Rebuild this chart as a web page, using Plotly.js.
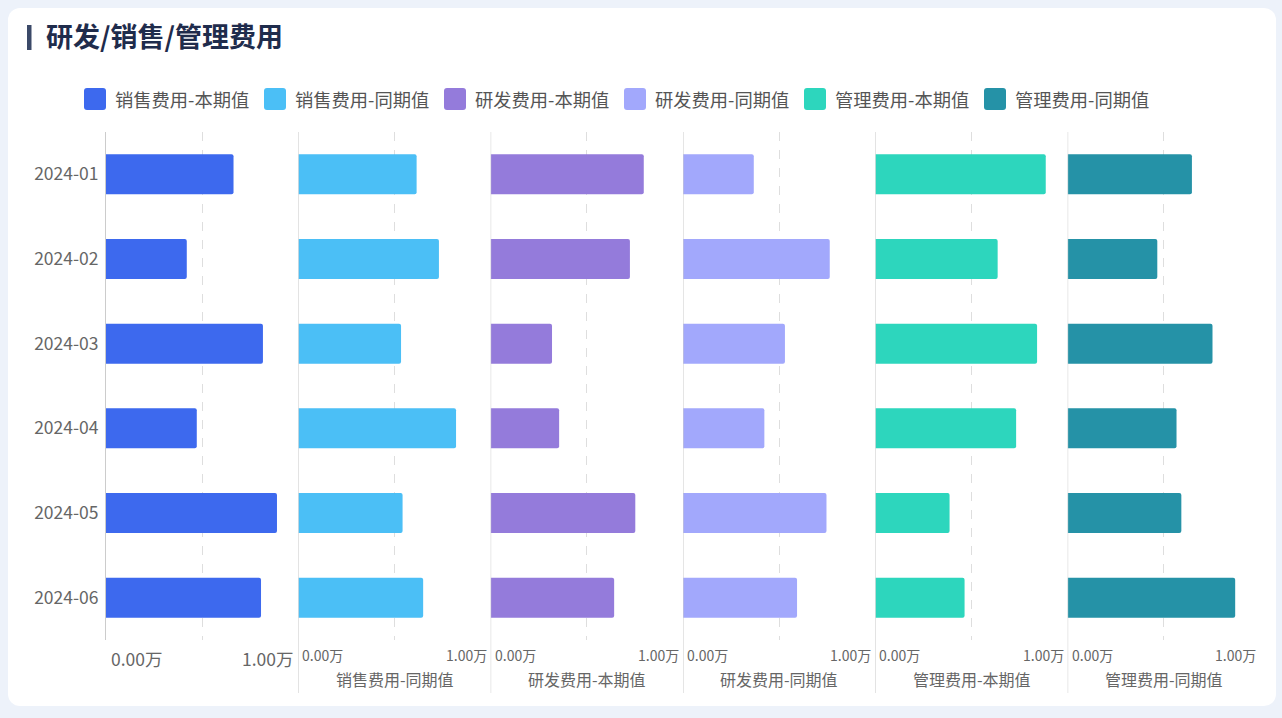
<!DOCTYPE html>
<html>
<head>
<meta charset="utf-8">
<script src="https://cdn.plot.ly/plotly-3.0.1.min.js"></script>
<style>
    html, body { margin: 0; padding: 0; background: #edf2fa; }
    #card {
        position: absolute; left: 8px; top: 8px; width: 1268px; height: 698px;
        background: #ffffff; border-radius: 12px;
    }
    #chart { position: absolute; left: 0; top: 0; width: 1282px; height: 718px; }
</style>
</head>
<body>
<div id="card"></div>
<div id="chart"></div>
<script>
// months on the category axis (top to bottom)
const months = ['2024-01', '2024-02', '2024-03', '2024-04', '2024-05', '2024-06'];

// series names, one panel each
const seriesNames = [
    '销售费用-本期值', '销售费用-同期值',
    '研发费用-本期值', '研发费用-同期值',
    '管理费用-本期值', '管理费用-同期值'
];
const seriesColors = ['#3d69ee', '#4bbff6', '#947bdb', '#a2a8fc', '#2dd6bd', '#2592a7'];

// values in 万
const salesCur  = [0.663, 0.420, 0.816, 0.472, 0.889, 0.806];
const salesPrev = [0.615, 0.731, 0.534, 0.820, 0.542, 0.649];
const rdCur     = [0.796, 0.724, 0.319, 0.356, 0.752, 0.642];
const rdPrev    = [0.368, 0.763, 0.530, 0.423, 0.746, 0.593];
const admCur    = [0.886, 0.636, 0.841, 0.732, 0.386, 0.464];
const admPrev   = [0.646, 0.466, 0.753, 0.566, 0.591, 0.871];
const seriesValues = [salesCur, salesPrev, rdCur, rdPrev, admCur, admPrev];

// x axis ticks of every panel
const xTickVals = [0, 1];
const xTickText = ['0.00万', '1.00万'];

const FONT = '"Noto Sans CJK SC", "Noto Sans", sans-serif';

// plot area in pixels, used to place the decorations
const M = { l: 106, r: 22, t: 132, b: 78 };
const W = 1282 - M.l - M.r;
const H = 718 - M.t - M.b;
const px = x => (x - M.l) / W;
const py = y => 1 - (y - M.t) / H;

const traces = seriesValues.map((vals, i) => ({
    type: 'bar',
    orientation: 'h',
    name: seriesNames[i],
    x: vals,
    y: months,
    xaxis: i === 0 ? 'x' : 'x' + (i + 1),
    yaxis: 'y',
    marker: { color: seriesColors[i], cornerradius: 2 },
    showlegend: false,
    hovertemplate: '%{y}<br>' + seriesNames[i] + ': %{x:.2f}万<extra></extra>'
}));

const layout = {
    width: 1282,
    height: 718,
    margin: M,
    paper_bgcolor: 'rgba(0,0,0,0)',
    plot_bgcolor: 'rgba(0,0,0,0)',
    font: { family: FONT, color: '#666' },
    bargap: 0.528,
    title: {
        text: '<b>研发/销售/管理费用</b>',
        xref: 'container', yref: 'container',
        x: 46 / 1282, y: 1 - 38 / 718,
        xanchor: 'left', yanchor: 'middle',
        font: { family: FONT, size: 27, color: '#1f2c4c' }
    },
    yaxis: {
        type: 'category',
        autorange: 'reversed',
        anchor: 'x',
        showgrid: false,
        zeroline: false,
        showline: true,
        linecolor: '#cccccc',
        linewidth: 1,
        ticks: '',
        ticklabelstandoff: 3,
        tickfont: { family: FONT, size: 17.5, color: '#666' }
    },
    shapes: [],
    annotations: []
};

seriesNames.forEach((name, i) => {
    const key = i === 0 ? 'xaxis' : 'xaxis' + (i + 1);
    const ref = i === 0 ? 'x' : 'x' + (i + 1);
    layout[key] = {
        domain: [i / 6, (i + 1) / 6],
        range: [0, 1],
        anchor: 'y',
        tickvals: [0.5, 1],
        showticklabels: false,
        ticks: '',
        showgrid: true,
        griddash: 'dash',
        gridcolor: '#dedede',
        gridwidth: 1,
        zeroline: false,
        showline: false
    };

    const big = i === 0;
    // tick labels at both ends of the panel
    xTickVals.forEach((v, j) => {
        layout.annotations.push({
            xref: ref, yref: 'paper',
            x: v, y: 0,
            text: xTickText[j],
            showarrow: false,
            xanchor: j === 0 ? 'left' : 'right',
            yanchor: 'middle',
            xshift: j === 0 ? (big ? 3 : 2) : -2,
            yshift: big ? -18 : -15,
            font: { family: FONT, size: big ? 17.5 : 14, color: '#666' }
        });
    });

    if (i > 0) {
        // separator line and panel title
        layout.shapes.push({
            type: 'line', xref: ref, yref: 'paper',
            x0: 0, x1: 0, y0: 1, y1: py(693),
            line: { color: '#cccccc', width: 1 }
        });
        layout.annotations.push({
            xref: ref + ' domain', yref: 'paper',
            x: 0.5, y: 0,
            text: name,
            showarrow: false,
            xanchor: 'center', yanchor: 'middle',
            yshift: -39,
            font: { family: FONT, size: 16, color: '#666' }
        });
    }

    // legend entry
    const lx = 84 + 180 * i;
    layout.shapes.push({
        type: 'path', xref: 'paper', yref: 'paper',
        path: roundRect(px(lx), py(88), px(lx + 22), py(110), 3),
        fillcolor: seriesColors[i],
        line: { width: 0 }
    });
    layout.annotations.push({
        xref: 'paper', yref: 'paper',
        x: px(lx + 29), y: py(99),
        text: name,
        showarrow: false,
        xanchor: 'left', yanchor: 'middle',
        font: { family: FONT, size: 18.3, color: '#555' }
    });
});

// title marker bar
layout.shapes.push({
    type: 'rect', xref: 'paper', yref: 'paper',
    x0: px(27), x1: px(31.5), y0: py(25), y1: py(50),
    fillcolor: '#3b4968', line: { width: 0 }
});

function roundRect(x0, y1, x1, y0, rPx) {
    // y1 is top (larger paper y), y0 bottom
    const rx = rPx / W, ry = rPx / H;
    return 'M' + (x0 + rx) + ',' + y1 +
        ' L' + (x1 - rx) + ',' + y1 +
        ' Q' + x1 + ',' + y1 + ' ' + x1 + ',' + (y1 - ry) +
        ' L' + x1 + ',' + (y0 + ry) +
        ' Q' + x1 + ',' + y0 + ' ' + (x1 - rx) + ',' + y0 +
        ' L' + (x0 + rx) + ',' + y0 +
        ' Q' + x0 + ',' + y0 + ' ' + x0 + ',' + (y0 + ry) +
        ' L' + x0 + ',' + (y1 - ry) +
        ' Q' + x0 + ',' + y1 + ' ' + (x0 + rx) + ',' + y1 + ' Z';
}

Plotly.newPlot('chart', traces, layout, { displayModeBar: false, responsive: false });
</script>
</body>
</html>
